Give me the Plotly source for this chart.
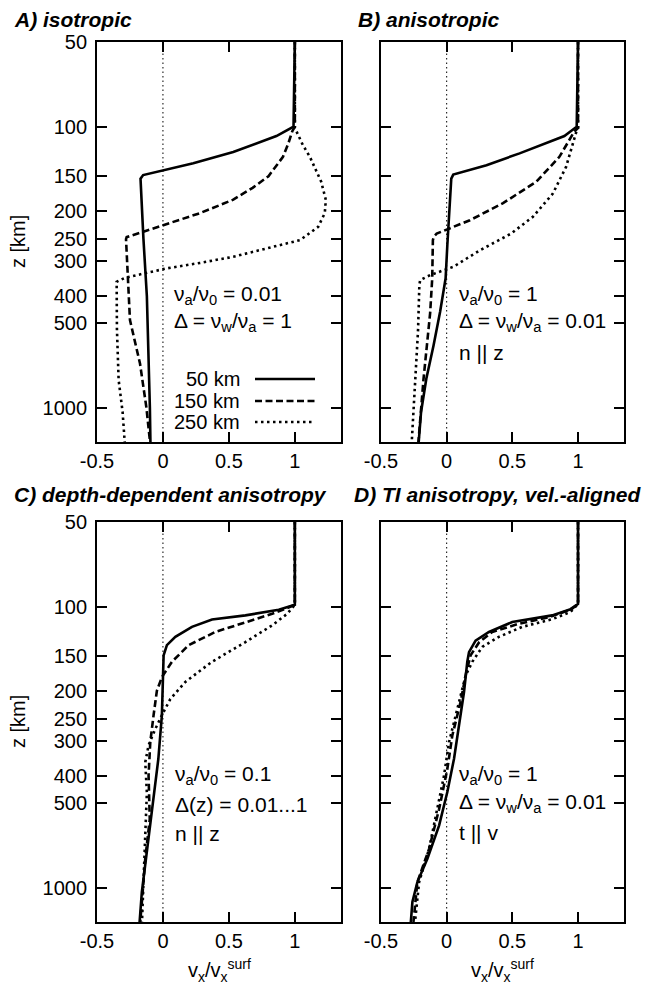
import plotly.graph_objects as go
from plotly.subplots import make_subplots
import math

# ---------------- data (z in km, x = vx/vx_surf) ----------------
# Panel A: isotropic
a50_z = [50, 100, 108, 123, 135, 148.6, 153, 200, 250, 400, 600, 1000, 1321]
a50_x = [1.0, 0.99, 0.86, 0.533, 0.23, -0.15, -0.17, -0.16, -0.148, -0.122, -0.11, -0.099, -0.095]
a150_z = [50, 100, 104, 115, 128, 150, 165, 182, 203, 222, 247, 251, 487, 695, 1000, 1321]
a150_x = [1.0, 1.0, 0.98, 0.95, 0.91, 0.80, 0.68, 0.53, 0.28, 0.03, -0.275, -0.28, -0.25, -0.174, -0.125, -0.098]
a250_z = [50, 101, 116, 128, 157, 182, 203, 227, 253, 270, 290, 305, 319, 333, 345, 356, 522, 795, 1033, 1321]
a250_x = [1.0, 1.0, 1.06, 1.114, 1.2, 1.235, 1.227, 1.177, 1.04, 0.80, 0.533, 0.28, 0.028, -0.15, -0.29, -0.351, -0.349, -0.336, -0.306, -0.29]

# Panel B: anisotropic
b50_z = [50, 100, 108, 124.4, 137, 148, 153, 200, 264, 346, 455, 599, 787, 1033, 1321]
b50_x = [1.0, 0.99, 0.896, 0.555, 0.303, 0.05, 0.035, 0.018, 0.005, -0.008, -0.05, -0.1, -0.155, -0.195, -0.213]
b150_z = [50, 101, 104, 128, 157, 187, 215, 240, 246, 253, 346, 460, 795, 1321]
b150_x = [1.0, 1.0, 0.972, 0.858, 0.682, 0.429, 0.177, -0.076, -0.098, -0.105, -0.11, -0.126, -0.177, -0.215]
b250_z = [50, 101, 105, 139, 173, 209, 240, 275, 315, 337, 351, 366, 530, 795, 1321]
b250_x = [1.0, 1.0, 0.985, 0.909, 0.808, 0.657, 0.49, 0.253, 0.05, -0.126, -0.202, -0.208, -0.218, -0.24, -0.266]

# Panel C: depth-dependent anisotropy
c50_z = [50, 98.5, 102.5, 107.4, 111, 118, 128, 137, 149, 176, 243, 348, 524, 787, 1034, 1321]
c50_x = [1.0, 1.0, 0.878, 0.625, 0.372, 0.22, 0.094, 0.03, 0.005, 0.0, -0.008, -0.035, -0.08, -0.125, -0.16, -0.177]
c150_z = [50, 98.5, 101.7, 106, 113.7, 123, 137, 157, 178, 199, 243, 303, 398, 569, 787, 1321]
c150_x = [1.0, 1.0, 0.929, 0.828, 0.625, 0.397, 0.195, 0.068, -0.008, -0.046, -0.071, -0.096, -0.109, -0.1, -0.134, -0.172]
c250_z = [50, 98.5, 106, 116.5, 133.6, 157, 185, 213, 243, 272, 311, 357, 458, 688, 1321]
c250_x = [1.0, 1.0, 0.942, 0.828, 0.625, 0.372, 0.17, 0.056, -0.008, -0.058, -0.109, -0.134, -0.122, -0.134, -0.159]

# Panel D: TI anisotropy, velocity-aligned
d50_z = [50, 97.8, 101.7, 107.4, 113.4, 123, 132, 145, 157, 201, 264, 347, 456, 600, 787, 953, 1122, 1321]
d50_x = [1.0, 1.0, 0.954, 0.803, 0.499, 0.322, 0.22, 0.17, 0.157, 0.132, 0.094, 0.056, 0.005, -0.058, -0.147, -0.223, -0.261, -0.273]
d150_z = [50, 97.8, 103, 109, 115, 123, 134, 149, 171, 218, 287, 378, 525, 726, 953, 1321]
d150_x = [1.0, 1.0, 0.929, 0.777, 0.549, 0.347, 0.246, 0.182, 0.149, 0.106, 0.043, 0.005, -0.058, -0.134, -0.223, -0.253]
d250_z = [50, 97.8, 104.5, 110.8, 118, 128, 139, 157, 176, 230, 303, 398, 525, 726, 953, 1321]
d250_x = [1.0, 1.0, 0.942, 0.803, 0.575, 0.397, 0.271, 0.195, 0.144, 0.081, 0.018, -0.02, -0.071, -0.134, -0.21, -0.241]

series_names = ["50 km", "150 km", "250 km"]
panel_titles = ["A) isotropic", "B) anisotropic",
                "C) depth-dependent anisotropy", "D) TI anisotropy, vel.-aligned"]
x_ticks = [-0.5, 0, 0.5, 1]
x_ticklabels = ["-0.5", "0", "0.5", "1"]
z_ticks = [50, 100, 150, 200, 250, 300, 400, 500, 1000]
z_ticklabels = ["50", "100", "150", "200", "250", "300", "400", "500", "1000"]
x_range = [-0.5, 1.35]
z_range = [50, 1321]

panel_notes = [
    ["ν<sub>a</sub>/ν<sub>0</sub> = 0.01", "Δ = ν<sub>w</sub>/ν<sub>a</sub> = 1"],
    ["ν<sub>a</sub>/ν<sub>0</sub> = 1", "Δ = ν<sub>w</sub>/ν<sub>a</sub> = 0.01", "n || z"],
    ["ν<sub>a</sub>/ν<sub>0</sub> = 0.1", "Δ(z) = 0.01...1", "n || z"],
    ["ν<sub>a</sub>/ν<sub>0</sub> = 1", "Δ = ν<sub>w</sub>/ν<sub>a</sub> = 0.01", "t || v"],
]

# ---------------- layout helpers ----------------
# the page body adds an 8 px offset; the figure is sized to fill the rest of the window
OFF = 8
W, H = 650 - OFF, 990 - OFF
FONT = "Liberation Sans, Arial, Helvetica, sans-serif"
def px(x):
    return (x - OFF) / W
def py(y):
    return 1 - (y - OFF) / H

dashes = ["solid", "7px,3.5px", "2.5px,3.5px"]
LW = 2.6

panels = [
    (1, 1, [(a50_x, a50_z), (a150_x, a150_z), (a250_x, a250_z)]),
    (1, 2, [(b50_x, b50_z), (b150_x, b150_z), (b250_x, b250_z)]),
    (2, 1, [(c50_x, c50_z), (c150_x, c150_z), (c250_x, c250_z)]),
    (2, 2, [(d50_x, d50_z), (d150_x, d150_z), (d250_x, d250_z)]),
]

fig = make_subplots(rows=2, cols=2)

for r, c, series in panels:
    for i, (xs, zs) in enumerate(series):
        fig.add_trace(go.Scatter(x=xs, y=zs, mode="lines", name=series_names[i],
                                 showlegend=False,
                                 line=dict(color="black", width=LW, dash=dashes[i])),
                      row=r, col=c)

xdom = {1: [px(97), px(341)], 2: [px(381), px(624)]}
ydom = {1: [py(442), py(42)], 2: [py(922), py(522)]}

for r in (1, 2):
    for c in (1, 2):
        fig.update_xaxes(domain=xdom[c], range=x_range, tickvals=x_ticks, ticktext=x_ticklabels,
                         ticks="inside", ticklen=10, tickwidth=1.5, tickcolor="black",
                         showline=True, linecolor="black", linewidth=1.8, mirror="ticks",
                         showgrid=False, zeroline=False, automargin=False,
                         tickfont=dict(family=FONT, size=20, color="black"),
                         row=r, col=c)
        fig.update_yaxes(domain=ydom[r], type="log",
                         range=[math.log10(z_range[1]), math.log10(z_range[0])],
                         tickvals=z_ticks, ticktext=z_ticklabels,
                         showticklabels=(c == 1),
                         ticks="inside", ticklen=10, tickwidth=1.5, tickcolor="black",
                         showline=True, linecolor="black", linewidth=1.8, mirror="ticks",
                         showgrid=False, zeroline=False, automargin=False,
                         tickfont=dict(family=FONT, size=20, color="black"),
                         ticklabelstandoff=4,
                         row=r, col=c)

# zero reference lines
for k, ax in enumerate(["x", "x2", "x3", "x4"]):
    yax = "y" if k == 0 else f"y{k+1}"
    fig.add_shape(type="line", xref=ax, yref=f"{yax} domain", x0=0, x1=0, y0=0, y1=1,
                  line=dict(color="black", width=1, dash="1.5px,3px"), layer="below")

annotations = []
# panel titles
title_pos = [(12, 20), (356, 20), (12, 495), (352, 495)]
for t, (x0, y0) in zip(panel_titles, title_pos):
    annotations.append(dict(text=t, xref="paper", yref="paper", x=px(x0), y=py(y0),
                            xanchor="left", yanchor="middle", showarrow=False,
                            font=dict(family=FONT, size=21, color="black", weight="bold", style="italic")))

# notes
note_pos = [(172, [295, 322]), (457, [295, 322, 352]), (173, [775, 804, 833]), (457, [775, 803, 832])]
for notes, (x0, ys) in zip(panel_notes, note_pos):
    for t, y0 in zip(notes, ys):
        annotations.append(dict(text=t, xref="paper", yref="paper", x=px(x0), y=py(y0),
                                xanchor="left", yanchor="middle", showarrow=False,
                                font=dict(family=FONT, size=21, color="black")))

# axis titles
for y0, y1 in [(42, 442), (522, 922)]:
    annotations.append(dict(text="z [km]", xref="paper", yref="paper", x=px(18), y=py((y0 + y1) / 2),
                            xanchor="center", yanchor="middle", textangle=-90, showarrow=False,
                            font=dict(family=FONT, size=20, color="black")))
for x0, x1 in [(97, 341), (381, 624)]:
    annotations.append(dict(text="v<sub>x</sub>/v<sub>x</sub><sup>surf</sup>", xref="paper", yref="paper",
                            x=px((x0 + x1) / 2), y=py(970), xanchor="center", yanchor="middle",
                            showarrow=False, font=dict(family=FONT, size=20, color="black")))

# legend (panel A, inside)
leg_y = [379, 401, 422]
for i, name in enumerate(series_names):
    annotations.append(dict(text=name, xref="paper", yref="paper", x=px(242), y=py(leg_y[i]),
                            xanchor="right", yanchor="middle", showarrow=False,
                            font=dict(family=FONT, size=20, color="black")))
    fig.add_shape(type="line", xref="paper", yref="paper", x0=px(255), x1=px(315),
                  y0=py(leg_y[i]), y1=py(leg_y[i]),
                  line=dict(color="black", width=LW, dash=dashes[i]))

fig.update_layout(template="none", width=W, height=H, autosize=False,
                  margin=dict(l=0, r=0, t=0, b=0, pad=0),
                  paper_bgcolor="white", plot_bgcolor="white",
                  annotations=annotations, showlegend=False,
                  font=dict(family=FONT, size=20, color="black"))

fig.write_html("out.html")
